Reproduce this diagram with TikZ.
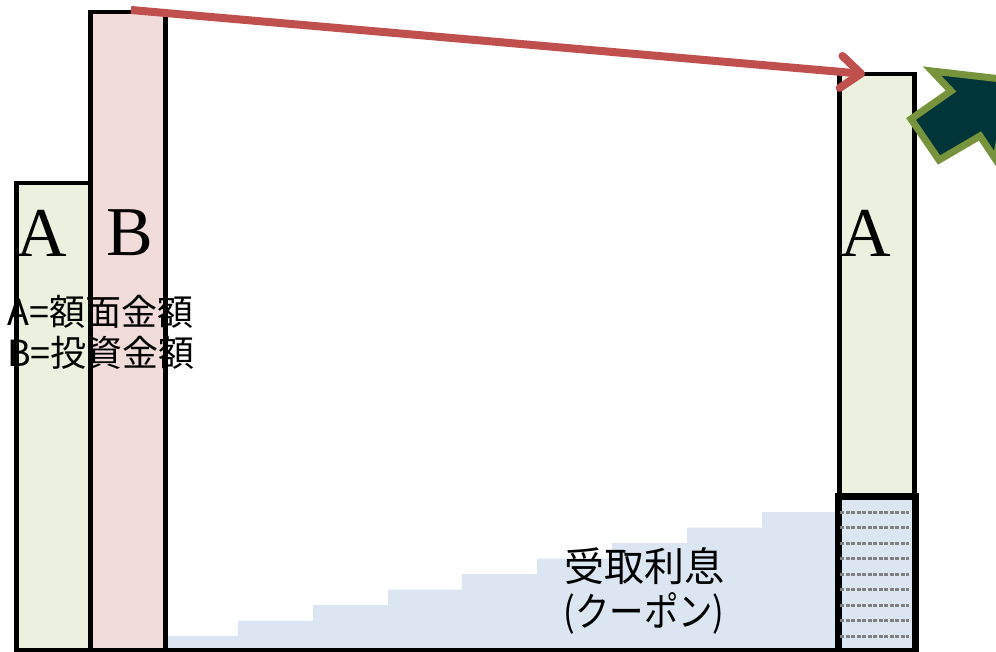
\documentclass[tikz,border=0pt]{standalone}
\usepackage{fontspec}
\setmainfont{Liberation Serif}
\newfontfamily\jpfont{Noto Sans CJK JP}
\usetikzlibrary{arrows.meta}
\definecolor{boxA}{HTML}{EBF1DE}
\definecolor{boxB}{HTML}{F2DCDB}
\definecolor{lblue}{HTML}{DCE6F2}
\definecolor{redarr}{HTML}{C0504D}
\definecolor{darkteal}{HTML}{00353A}
\definecolor{olive}{HTML}{77933C}
\tikzset{
  bar/.style={draw=black,line width=4.5pt},
  bigletter/.style={font=\fontsize{70}{70}\selectfont,inner sep=0pt},
  jptext/.style={font=\jpfont\fontsize{36}{41}\selectfont,inner sep=0pt,align=left},
  jptext2/.style={font=\jpfont\fontsize{40}{45}\selectfont,inner sep=0pt,align=center},
  stripe/.style={draw=black!50,line width=3pt,dash pattern=on 4pt off 1.5pt},
}
\begin{document}
\begin{tikzpicture}[x=1pt,y=-1pt]
\useasboundingbox (0,0) rectangle (996,652);
% staircase coupons
\fill[lblue] (165,650) -- (165,636) -- (238,636) -- (238,620.5) -- (313,620.5) -- (313,605)
  -- (388,605) -- (388,589.5) -- (462,589.5) -- (462,574) -- (537,574) -- (537,558.5)
  -- (612,558.5) -- (612,543) -- (687,543) -- (687,527.5) -- (762,527.5) -- (762,512)
  -- (837,512) -- (837,650) -- cycle;
% left bars
\node[bar,fill=boxA,minimum width=74pt,minimum height=469pt,anchor=north west,inner sep=0pt] (barA) at (14,181) {};
\node[bar,fill=boxB,minimum width=75pt,minimum height=640pt,anchor=north west,inner sep=0pt] (barB) at (88,10) {};
% right bar
\node[bar,fill=lblue,minimum width=75pt,minimum height=155pt,anchor=north west,inner sep=0pt] (barC) at (837,495) {};
\node[bar,fill=boxA,minimum width=75pt,minimum height=423pt,anchor=north west,inner sep=0pt] (barR) at (837,72) {};
\foreach \yy in {512,527.5,543,558.5,574,589.5,605,620.5,636}
  \draw[stripe] (840,\yy) -- (909,\yy);
\draw[bar] (barC.north west) rectangle (barC.south east);
% bottom line
\draw[line width=4pt] (14,650) -- (912,650);
% letters
\node[bigletter] (la) at (42,233) {A};
\node[bigletter] (lb) at (130,233) {B};
\node[bigletter] (lr) at (866,233) {A};
\node[jptext,anchor=west] (legend) at (7,332) {A=額面金額\\B=投資金額};
\node[jptext2] (coupon) at (644,591) {受取利息\\\scalebox{0.86}[1]{(クーポン)}};
% red arrow
\coordinate (rs) at (131,10);
\coordinate (re) at (865,74);
\draw[redarr,line width=8pt,-{Straight Barb[round,length=20pt,width=32pt,line width=8pt]}] (rs) -- (re);
% green block arrow
\begin{scope}
\clip (0,0) rectangle (996,652);
\draw[fill=darkteal,draw=olive,line width=7pt,line join=miter]
  (911,119) -- (951,91) -- (932,71) -- (1010,80) -- (996,160) -- (980,136) -- (939,160) -- cycle;
\end{scope}
\end{tikzpicture}
\end{document}
